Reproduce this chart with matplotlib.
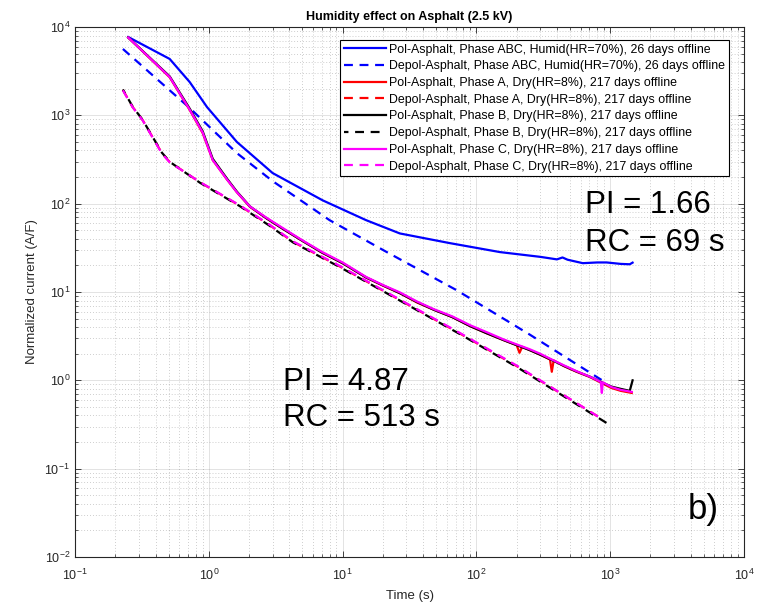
import numpy as np
import matplotlib
matplotlib.use('Agg')
import matplotlib.pyplot as plt
from matplotlib.ticker import LogLocator, NullFormatter

plt.rcParams['font.family'] = ['Liberation Sans', 'DejaVu Sans']
plt.rcParams['mathtext.default'] = 'regular'
plt.rcParams['axes.unicode_minus'] = False

# ---- data ----
# Pol / Depol, phase ABC, humid (HR=70%)
t_pol_abc = [0.25, 0.51, 0.72, 0.97, 1.62, 3.0, 7.1, 15, 26.8, 63, 150, 300, 400, 440, 480, 624, 800, 940, 1200, 1400, 1470]
I_pol_abc = [7700, 4350, 2380, 1240, 500, 222, 109, 65, 46, 35.8, 28.3, 25.0, 23.4, 24.6, 23.2, 21.2, 21.6, 21.6, 20.8, 20.6, 21.5]
t_dep_abc = [0.228, 0.72, 1.62, 3.0, 8.0, 21.4, 71, 250, 795, 900]
I_dep_abc = [5640, 1210, 374, 180, 65, 28.3, 10.5, 3.3, 1.09, 0.97]

# Pol, phases A/B/C, dry (HR=8%)
t_pol_a = [0.25, 0.51, 0.72, 0.90, 1.07, 1.36, 1.62, 2.03, 2.71, 3.57, 5.0, 7.0, 10, 15, 20, 26.8, 36, 48, 66, 90,
           120, 160, 200, 210, 220, 250, 300, 355, 366, 378, 450, 560, 705, 866, 1020, 1200, 1450]
I_pol_a = [7600, 2700, 1150, 630, 312, 190, 135, 92, 68, 52, 38, 28, 21.2, 14.6, 11.8, 9.7, 7.6, 6.3, 5.2, 4.1,
           3.4, 2.85, 2.5, 2.05, 2.4, 2.2, 1.95, 1.72, 1.25, 1.68, 1.45, 1.25, 1.09, 0.93, 0.82, 0.76, 0.72]
t_pol_b = [0.25, 0.51, 0.72, 0.90, 1.07, 1.36, 1.62, 2.03, 2.71, 3.57, 5.0, 7.0, 10, 15, 20, 26.8, 36, 48, 66, 90,
           120, 160, 200, 250, 300, 366, 450, 560, 705, 866, 1020, 1200, 1400, 1470]
I_pol_b = [7600, 2760, 1190, 660, 322, 194, 137, 93, 68, 52, 38, 28, 21.2, 14.6, 11.9, 9.7, 7.7, 6.3, 5.2, 4.1,
           3.4, 2.85, 2.5, 2.2, 1.95, 1.7, 1.46, 1.26, 1.1, 0.95, 0.85, 0.80, 0.76, 1.0]
t_pol_c = [0.25, 0.51, 0.72, 0.90, 1.07, 1.36, 1.62, 2.03, 2.71, 3.57, 5.0, 7.0, 10, 15, 20, 26.8, 36, 48, 66, 90,
           120, 160, 200, 250, 300, 366, 450, 560, 705, 850, 866, 880, 1020, 1200, 1450]
I_pol_c = [7600, 2720, 1160, 640, 312, 190, 135, 93, 69, 53, 38.5, 28.5, 21.6, 14.8, 12.0, 9.9, 7.8, 6.4, 5.3, 4.2,
           3.5, 2.9, 2.55, 2.25, 2.0, 1.72, 1.48, 1.27, 1.1, 0.96, 0.72, 0.95, 0.84, 0.78, 0.74]

# Depol, phases A/B/C, dry (HR=8%)
t_dep_a = [0.228, 0.27, 0.32, 0.446, 0.51, 0.857, 1.7, 2.86, 4.25, 9.5, 26.8, 75, 200, 880]
I_dep_a = [1940, 1240, 885, 374, 296, 175, 95, 57, 37, 19.5, 8.1, 3.4, 1.45, 0.36]
t_dep_b = [0.228, 0.27, 0.32, 0.446, 0.51, 0.857, 1.7, 2.86, 4.25, 9.5, 26.8, 75, 200, 880, 1000]
I_dep_b = [1960, 1250, 890, 378, 298, 173, 94, 56, 36.5, 19.2, 8.0, 3.35, 1.42, 0.35, 0.31]
t_dep_c = [0.228, 0.27, 0.32, 0.446, 0.51, 0.857, 1.7, 2.86, 4.25, 9.5, 26.8, 75, 200, 880]
I_dep_c = [1920, 1230, 880, 370, 294, 176, 96, 57.5, 37.5, 19.8, 8.2, 3.45, 1.47, 0.36]

labels = ['Pol-Asphalt, Phase ABC, Humid(HR=70%), 26 days offline',
          'Depol-Asphalt, Phase ABC, Humid(HR=70%), 26 days offline',
          'Pol-Asphalt, Phase A, Dry(HR=8%), 217 days offline',
          'Depol-Asphalt, Phase A, Dry(HR=8%), 217 days offline',
          'Pol-Asphalt, Phase B, Dry(HR=8%), 217 days offline',
          'Depol-Asphalt, Phase B, Dry(HR=8%), 217 days offline',
          'Pol-Asphalt, Phase C, Dry(HR=8%), 217 days offline',
          'Depol-Asphalt, Phase C, Dry(HR=8%), 217 days offline']

# ---- figure ----
W, H = 763, 607
fig = plt.figure(figsize=(W/100, H/100), dpi=100)
ax = fig.add_axes([75/W, 1-557/H, 669/W, 530/H])

dash = (0, (4, 3))
lw = 1.6
ax.plot(t_pol_abc, I_pol_abc, color='#0000ff', lw=lw, label=labels[0])
ax.plot(t_dep_abc, I_dep_abc, color='#0000ff', lw=lw, ls=dash, label=labels[1])
ax.plot(t_pol_a, I_pol_a, color='#ff0000', lw=lw, label=labels[2])
ax.plot(t_dep_a, I_dep_a, color='#ff0000', lw=lw, ls=dash, label=labels[3])
ax.plot(t_pol_b, I_pol_b, color='k', lw=lw, label=labels[4])
ax.plot(t_dep_b, I_dep_b, color='k', lw=lw, ls=(2, (4, 3)), label=labels[5])
ax.plot(t_pol_c, I_pol_c, color='#ff00ff', lw=lw, label=labels[6])
ax.plot(t_dep_c, I_dep_c, color='#ff00ff', lw=lw, ls=dash, label=labels[7])

ax.set_xscale('log')
ax.set_yscale('log')
ax.set_xlim(1e-1, 1e4)
ax.set_ylim(1e-2, 1e4)
ax.xaxis.set_major_locator(LogLocator(base=10, numticks=10))
ax.yaxis.set_major_locator(LogLocator(base=10, numticks=10))
ax.xaxis.set_minor_locator(LogLocator(base=10, subs=np.arange(2, 10), numticks=20))
ax.yaxis.set_minor_locator(LogLocator(base=10, subs=np.arange(2, 10), numticks=20))
ax.xaxis.set_minor_formatter(NullFormatter())
ax.yaxis.set_minor_formatter(NullFormatter())

gc = '0.15'
ax.grid(True, which='major', color=gc, alpha=0.15, lw=0.6, ls='-')
ax.grid(True, which='minor', color=gc, alpha=0.3, lw=0.6, ls=(0, (1, 2.5)))
ax.tick_params(which='both', direction='in', top=True, right=True, colors=gc, labelsize=9)
ax.tick_params(which='major', length=4, width=0.6)
ax.tick_params(which='minor', length=2, width=0.5)
ax.tick_params(axis='x', which='major', pad=8)
for s in ax.spines.values():
    s.set_color(gc)
    s.set_linewidth(0.8)

ax.set_xlabel('Time (s)', fontsize=9.5, color=gc)
ax.set_ylabel('Normalized current (A/F)', fontsize=9.5, color=gc)
ax.xaxis.set_label_coords(0.5, -0.062)
ax.yaxis.set_label_coords(-0.055, 0.5)
ax.set_title('Humidity effect on Asphalt (2.5 kV)', fontsize=9, fontweight='bold', pad=5)

leg = ax.legend(loc='upper right', bbox_to_anchor=(1 - 15/669, 1 - 13/530), fontsize=8.9,
                handlelength=3.4, handletextpad=0.25, labelspacing=0.38, borderpad=0.3,
                borderaxespad=0, fancybox=False, framealpha=1, edgecolor='k')
leg.get_frame().set_linewidth(0.8)

def px_text(x, y, s, size):
    fig.text(x/W, 1 - y/H, s, fontsize=size, va='center', ha='left')

px_text(585, 205, 'PI = 1.66', 22.5)
px_text(585, 243, 'RC = 69 s', 22.5)
px_text(283, 382, 'PI = 4.87', 22.5)
px_text(283, 418, 'RC = 513 s', 22.5)
px_text(688, 510, 'b)', 25)

fig.savefig('out.png', dpi=100)
